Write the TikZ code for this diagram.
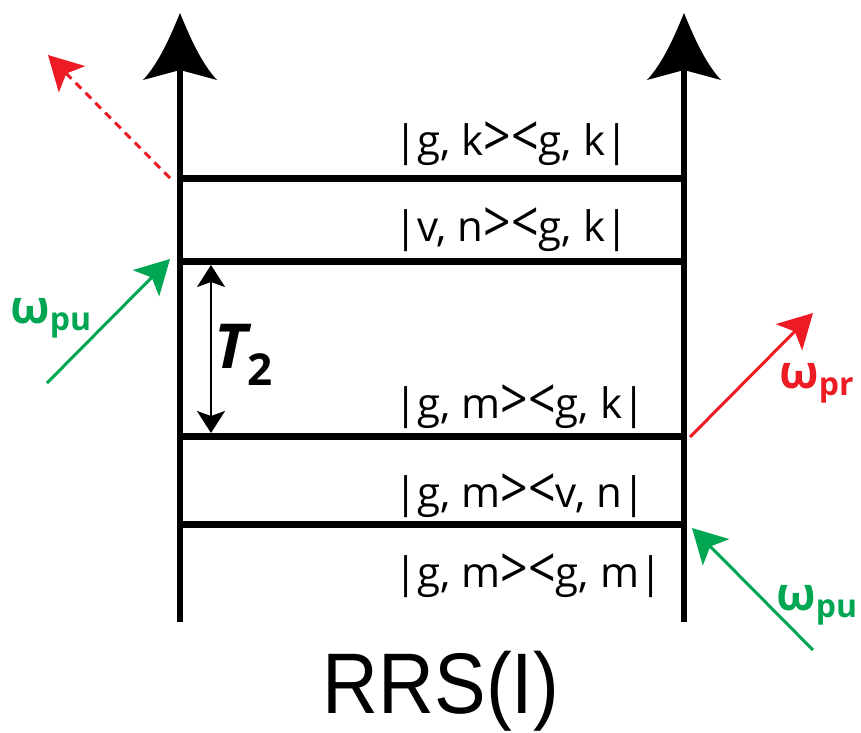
\documentclass[tikz,border=0pt]{standalone}
\usepackage{fontspec}
\setmainfont{Open Sans}
\newfontfamily\arialf{Liberation Sans}
\usetikzlibrary{arrows.meta}
\definecolor{pgreen}{RGB}{0,166,81}
\definecolor{pred}{RGB}{237,28,36}
\tikzset{
  axisline/.style={line width=6pt},
  level/.style={line width=6.5pt},
  axhead/.pic={\fill (0,0) .. controls (-9,22) and (-21,50) .. (-37,67) -- (0,57) -- (37,67) .. controls (21,50) and (9,22) .. (0,0) -- cycle;},
  beam/.style={line width=3pt, -{Stealth[length=34pt,width=37pt,inset=8pt]}},
  ket/.style={font=\fontsize{42}{42}\selectfont, anchor=base west, inner sep=0pt},
  wlabel/.style={anchor=base west, inner sep=0pt, font=\bfseries},
  t2arrow/.style={line width=1.8pt, {Stealth[length=22pt,width=28pt,inset=5pt]}-{Stealth[length=22pt,width=28pt,inset=5pt]}}
}
\newcommand{\wlab}[1]{{\fontsize{46}{46}\selectfont ω}\raisebox{-7pt}{\fontsize{32}{32}\selectfont #1}}
\newcommand{\kgt}{\raisebox{-1pt}{\scalebox{1.05}[1.25]{\fontsize{46}{46}\selectfont >}}}
\newcommand{\klt}{\raisebox{-1pt}{\scalebox{1.05}[1.25]{\fontsize{46}{46}\selectfont <}}}
\begin{document}
\begin{tikzpicture}[x=1pt,y=-1pt]
\useasboundingbox (0,0) rectangle (861,732);
% axes
\coordinate (LB) at (180,622);
\coordinate (LT) at (180,62);
\coordinate (RB) at (684,622);
\coordinate (RT) at (684,62);
\draw[axisline] (LB) -- (LT);
\draw[axisline] (RB) -- (RT);
\pic at (180,13) {axhead};
\pic at (684,13) {axhead};
% levels
\coordinate (L1a) at (180,178.5); \coordinate (L1b) at (684,178.5);
\coordinate (L2a) at (180,261.5); \coordinate (L2b) at (684,261.5);
\coordinate (L3a) at (180,436.5); \coordinate (L3b) at (684,436.5);
\coordinate (L4a) at (180,524.5); \coordinate (L4b) at (684,524.5);
\draw[level] (L1a) -- (L1b);
\draw[level] (L2a) -- (L2b);
\draw[level] (L3a) -- (L3b);
\draw[level] (L4a) -- (L4b);
% kets
\node[ket] (k1) at (394,155) {|g, k\kgt\klt g, k|};
\node[ket] (k2) at (394,241) {|v, n\kgt\klt g, k|};
\node[ket] (k3) at (394,418) {|g, m\kgt\klt g, k|};
\node[ket] (k4) at (394,507) {|g, m\kgt\klt v, n|};
\node[ket] (k5) at (394,587) {|g, m\kgt\klt g, m|};
% T2
\coordinate (T2a) at (211,265);
\coordinate (T2b) at (211,433);
\draw[t2arrow] (T2a) -- (T2b);
\node[anchor=base west, inner sep=0pt, font=\fontsize{62}{62}\selectfont\bfseries\itshape] (t2) at (214,368) {T\raisebox{-17pt}{\fontsize{44}{44}\selectfont\upshape 2}};
% beams
\coordinate (g1s) at (47,383); \coordinate (g1e) at (170,259);
\draw[beam, pgreen] (g1s) -- (g1e);
\coordinate (r1s) at (170,178); \coordinate (r1e) at (48,55);
\draw[beam, pred, dash pattern=on 8pt off 6pt] (r1s) -- (r1e);
\coordinate (r2s) at (690,437); \coordinate (r2e) at (813,313);
\draw[beam, pred] (r2s) -- (r2e);
\coordinate (g2s) at (813,650); \coordinate (g2e) at (692,528);
\draw[beam, pgreen] (g2s) -- (g2e);
% labels
\node[wlabel, text=pgreen] (w1) at (10,323) {\wlab{pu}};
\node[wlabel, text=pred] (w2) at (779,388) {\wlab{pr}};
\node[wlabel, text=pgreen] (w3) at (776,610) {\wlab{pu}};
% title
\node[anchor=base, inner sep=0pt, font=\arialf\fontsize{86}{86}\selectfont] (title) at (441,713) {\scalebox{0.9}[1]{RRS(I)}};
\end{tikzpicture}
\end{document}
